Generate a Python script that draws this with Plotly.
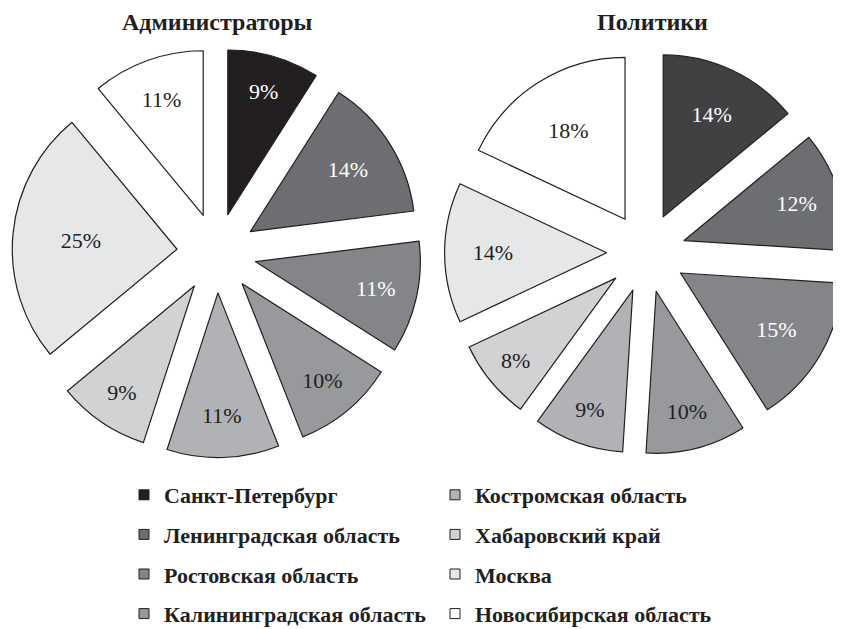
import plotly.graph_objects as go

regions = ["Санкт-Петербург", "Ленинградская область", "Ростовская область",
           "Калининградская область", "Костромская область", "Хабаровский край",
           "Москва", "Новосибирская область"]
admins = [9, 14, 11, 10, 11, 9, 25, 11]
politicians = [14, 12, 15, 10, 9, 8, 14, 18]
titles = ["Администраторы", "Политики"]

colors_admin = ["#231f20", "#6d6e71", "#848588", "#98999c", "#b1b2b5", "#d1d2d4", "#e6e7e8", "#ffffff"]
colors_pol = ["#414042", "#6d6e71", "#848588", "#98999c", "#b1b2b5", "#d1d2d4", "#e6e7e8", "#ffffff"]
legend_colors = ["#231f20", "#6d6e71", "#848588", "#98999c", "#b1b2b5", "#d1d2d4", "#e6e7e8", "#ffffff"]
text_admin = ["white", "white", "white", "#231f20", "#231f20", "#231f20", "#231f20", "#231f20"]
text_pol = ["white", "white", "white", "#231f20", "#231f20", "#231f20", "#231f20", "#231f20"]

W, H = 841, 629
OFF = 8  # page body margin


def px(x):
    return (x - OFF) / W


def py(y):
    return 1 - (y - OFF) / H


fig = go.Figure()

common = dict(sort=False, direction="clockwise", rotation=0, showlegend=False,
              textposition="inside", insidetextorientation="horizontal",
              texttemplate="%{value}%", hoverinfo="label+value")

fig.add_trace(go.Pie(
    labels=regions, values=admins,
    marker=dict(colors=colors_admin, line=dict(color="#231f20", width=1.2)),
    textfont=dict(family="Liberation Serif", size=22, color=text_admin),
    pull=[0.242] * 8,
    domain=dict(x=[px(12.1), px(421.3)], y=[py(457.6), py(48.4)]),
    **common))

fig.add_trace(go.Pie(
    labels=regions, values=politicians,
    marker=dict(colors=colors_pol, line=dict(color="#231f20", width=1.2)),
    textfont=dict(family="Liberation Serif", size=22, color=text_pol),
    pull=[0.245] * 8,
    domain=dict(x=[px(444.6), px(848.0)], y=[py(454.5), py(51.1)]),
    **common))

# legend entries (two columns)
for i, (name, col) in enumerate(zip(regions, legend_colors)):
    fig.add_trace(go.Scatter(
        x=[None], y=[None], mode="markers", name=name,
        marker=dict(symbol="square", size=10, color=col,
                    line=dict(color="#231f20", width=1)),
        legend="legend" if i < 4 else "legend2",
        legendgroup=f"g{i}", showlegend=True, hoverinfo="skip"))

legend_style = dict(font=dict(family="Liberation Serif", size=22, color="#231f20", weight="bold"),
                    bgcolor="rgba(0,0,0,0)", traceorder="grouped",
                    tracegroupgap=8, itemclick=False, itemdoubleclick=False,
                    yanchor="top", xanchor="left", orientation="v")

title_font = dict(family="Liberation Serif", size=24, color="#231f20", weight="bold")

fig.update_layout(
    width=W, height=H,
    margin=dict(l=0, r=0, t=0, b=0),
    paper_bgcolor="white", plot_bgcolor="white",
    xaxis=dict(visible=False), yaxis=dict(visible=False),
    legend=dict(x=px(124), y=py(474), **legend_style),
    legend2=dict(x=px(435), y=py(474), **legend_style),
    annotations=[
        dict(text=titles[0], x=px(217.5), y=py(22), xref="paper", yref="paper",
             xanchor="center", yanchor="middle", showarrow=False, font=title_font),
        dict(text=titles[1], x=px(652), y=py(22), xref="paper", yref="paper",
             xanchor="center", yanchor="middle", showarrow=False, font=title_font),
    ],
)

fig.write_html("out.html")
